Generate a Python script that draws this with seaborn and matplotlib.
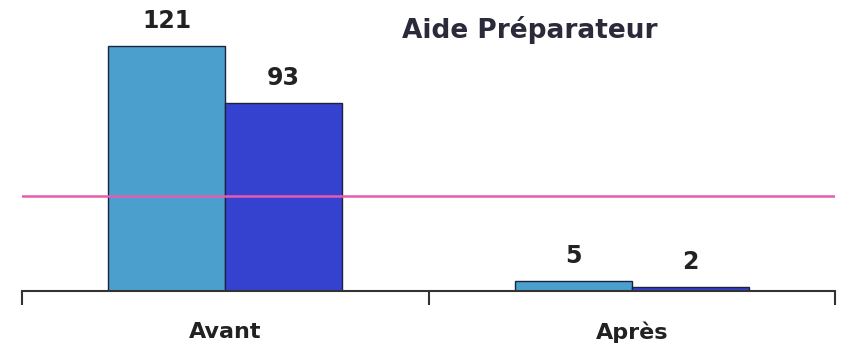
import matplotlib
matplotlib.use("Agg")
import matplotlib.pyplot as plt
import seaborn as sns
import pandas as pd

# Counts before/after for the two series
periods = ["Avant", "Après"]
series_names = ["Série 1", "Série 2"]
series_1 = [121, 5]
series_2 = [93, 2]
threshold = 47
title = "Aide Préparateur"

df = pd.DataFrame({
    "periode": periods * 2,
    "serie": [series_names[0]] * 2 + [series_names[1]] * 2,
    "valeur": series_1 + series_2,
})

sns.set_theme(style="white")
plt.rcParams["font.family"] = ["DejaVu Sans"]

fig = plt.figure(figsize=(8.55, 3.47), dpi=100)
ax = fig.add_axes([22 / 855, 1 - 291 / 347, 813 / 855, 263 / 347])

sns.barplot(
    data=df, x="periode", y="valeur", hue="serie",
    order=periods, hue_order=series_names,
    palette=["#4A9FCC", "#3442CF"], saturation=1, width=0.575,
    edgecolor="#1c2340", linewidth=1.0, legend=False, ax=ax,
)

for cont in ax.containers:
    ax.bar_label(cont, fmt="%d", padding=9, fontsize=17,
                 fontweight="bold", color="#222222")

ax.axhline(threshold, color="#E85AAE", linewidth=1.8, zorder=5)

ax.set_xlim(-0.5, 1.5)
ax.set_ylim(0, 263 / 2.025)
ax.set_xlabel("")
ax.set_ylabel("")
ax.set_yticks([])
ax.set_xticks([0, 1])
ax.set_xticklabels(periods, fontsize=16, fontweight="bold", color="#222222")
ax.tick_params(axis="x", which="major", bottom=True, length=0, pad=22)
ax.set_xticks([-0.5, 0.5, 1.5], minor=True)
ax.tick_params(axis="x", which="minor", bottom=True, length=10, width=1.5,
               color="#333333", direction="out")
for side in ["top", "right", "left"]:
    ax.spines[side].set_visible(False)
ax.spines["bottom"].set_color("#333333")
ax.spines["bottom"].set_linewidth(1.5)

fig.text(530 / 855, 1 - 30 / 347, title, ha="center", va="center",
         fontsize=19, fontweight="bold", color="#2a2a3a")

fig.savefig("out.png", dpi=100, facecolor="white")
